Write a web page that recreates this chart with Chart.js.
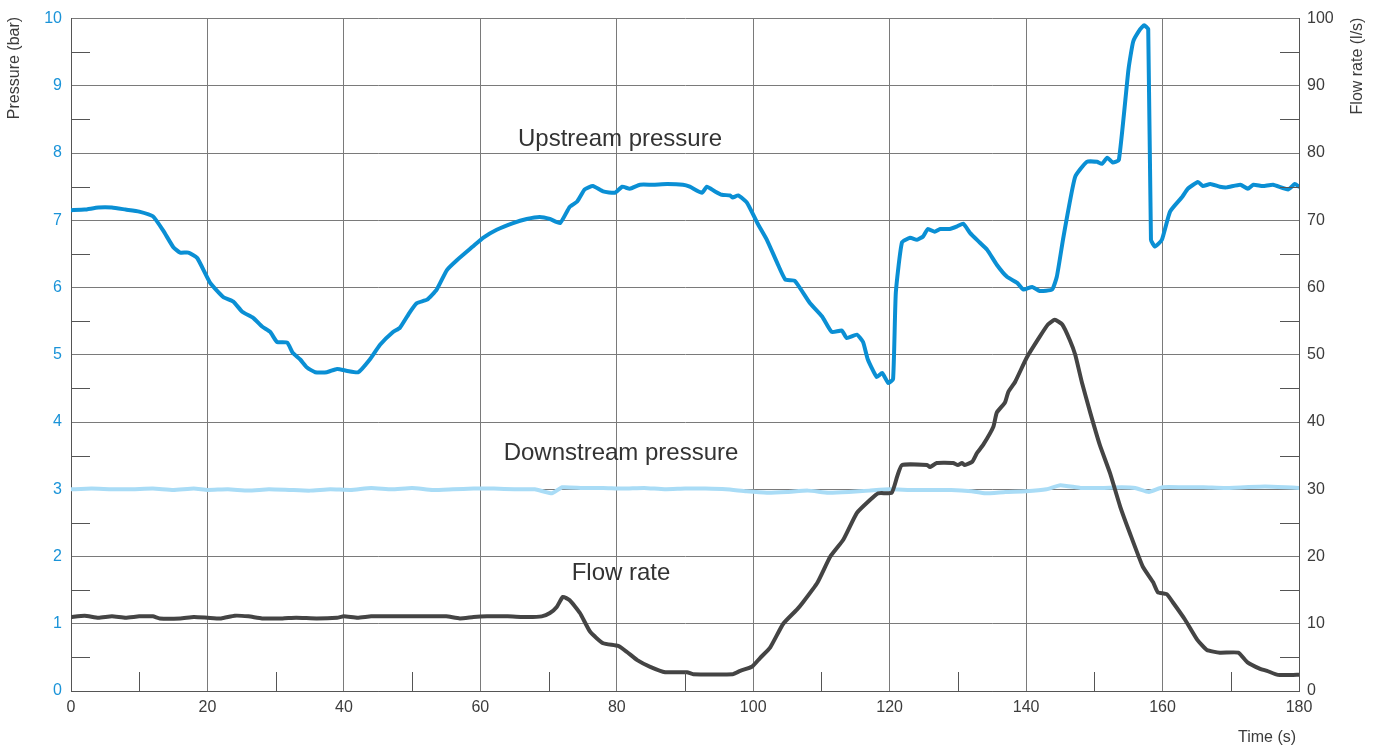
<!DOCTYPE html>
<html>
<head>
<meta charset="utf-8">
<script src="https://cdn.jsdelivr.net/npm/chart.js@4.4.1/dist/chart.umd.min.js"></script>
<style>
  html, body { margin: 0; padding: 0; background: #fff; }
  #chart { display: block; }
</style>
</head>
<body>
<canvas id="chart" width="1383" height="746"></canvas>
<script>
// upstream pressure (bar)
const upTime = [0, 2, 4, 6, 8, 10, 12, 13.5, 15, 16, 17.2, 18.5, 20.4, 22.3, 23.8, 25.1, 26.7, 28, 29.2, 30.2,
  31.7, 32.5, 33.6, 34.6, 35.8, 37.5, 39, 40.5, 42.1, 43.8, 45.3, 47.2, 48.2, 49.7, 50.7, 52.2, 53.6, 55.1,
  56.6, 58.9, 60.4, 62.4, 64.8, 66.8, 68.7, 70.2, 71.7, 73.1, 74.2, 75.3, 76.5, 78, 79.7, 80.8, 81.9, 83.4,
  85.3, 87.4, 89.7, 90.7, 92.5, 93.2, 94.4, 95.4, 96.6, 97, 97.8, 99.1, 100.6, 102, 103.5, 104.7, 106.1,
  108.3, 110.1, 111.5, 113, 113.7, 115.2, 116.1, 116.8, 118.1, 118.9, 119.8, 120.5, 120.9, 121.8, 123, 124,
  124.9, 125.6, 126.6, 127.4, 128.8, 129.9, 130.8, 131.8, 133.2, 134.3, 135.7, 137.2, 138.7, 139.6, 140.9,
  142, 143.8, 144.5, 145.4, 146, 147.2, 148.9, 150.4, 151.1, 151.9, 152.7, 153.6, 155, 155.7, 156.7, 157.3,
  157.9, 158.3, 158.9, 159.9, 161.1, 162.9, 163.7, 165.2, 165.9, 167, 168.4, 169.4, 171.4, 172.5, 173.3,
  174.7, 176.2, 178.4, 179.4, 180];
const upPressure = [7.15, 7.16, 7.19, 7.19, 7.16, 7.13, 7.06, 6.85, 6.6, 6.52, 6.52, 6.44, 6.07, 5.86, 5.79, 5.64,
  5.55, 5.42, 5.34, 5.19, 5.18, 5.03, 4.93, 4.81, 4.74, 4.74, 4.79, 4.76, 4.74, 4.93, 5.15, 5.34, 5.4, 5.64,
  5.77, 5.82, 5.97, 6.26, 6.41, 6.61, 6.74, 6.86, 6.96, 7.02, 7.05, 7.02, 6.96, 7.2, 7.28, 7.46, 7.51, 7.43,
  7.41, 7.5, 7.47, 7.53, 7.53, 7.54, 7.53, 7.5, 7.41, 7.5, 7.43, 7.38, 7.37, 7.34, 7.37, 7.26, 6.96, 6.71,
  6.37, 6.12, 6.1, 5.77, 5.57, 5.34, 5.36, 5.25, 5.3, 5.19, 4.93, 4.67, 4.73, 4.58, 4.64, 5.92, 6.67, 6.74,
  6.71, 6.76, 6.87, 6.83, 6.87, 6.87, 6.91, 6.95, 6.81, 6.67, 6.56, 6.34, 6.16, 6.07, 5.97, 6.01, 5.95, 5.97,
  6.16, 6.71, 7.05, 7.65, 7.87, 7.87, 7.84, 7.93, 7.86, 7.9, 9.24, 9.66, 9.84, 9.9, 9.84, 6.71, 6.61, 6.71,
  7.13, 7.35, 7.47, 7.57, 7.51, 7.54, 7.5, 7.49, 7.53, 7.47, 7.53, 7.51, 7.53, 7.46, 7.54, 7.5];

// downstream pressure (bar)
const downTime = [0, 3, 6, 9, 12, 15, 18, 20, 23, 26, 29, 32, 35, 38, 41, 44, 47, 50, 53, 56, 59, 62, 65, 68,
  70.5, 72, 75, 78, 81, 84, 87, 90, 93, 96, 99, 102, 105, 108, 111, 114, 117, 120, 123, 126, 129, 132, 134,
  137, 140, 143, 145, 148, 151, 154, 156, 158, 160, 163, 166, 169, 172, 175, 178, 180];
const downPressure = [3.0, 3.01, 3.0, 3.0, 3.01, 2.99, 3.01, 2.99, 3.0, 2.98, 3.0, 2.99, 2.98, 3.0, 2.99, 3.02,
  3.0, 3.02, 2.99, 3.0, 3.01, 3.01, 3.0, 3.0, 2.94, 3.03, 3.02, 3.02, 3.01, 3.02, 3.0, 3.01, 3.01, 3.0, 2.97,
  2.95, 2.96, 2.98, 2.95, 2.96, 2.98, 3.0, 2.99, 2.99, 2.99, 2.97, 2.94, 2.96, 2.97, 3.0, 3.06, 3.02, 3.02,
  3.03, 3.02, 2.96, 3.03, 3.03, 3.03, 3.02, 3.03, 3.04, 3.03, 3.02];

// flow rate (l/s)
const flowTime = [0, 2, 4, 6, 8, 10, 12, 13, 16, 18, 20, 22, 24, 26, 28, 31, 33, 36, 39, 40, 42, 44, 47, 52, 55,
  57, 59, 61, 64, 67, 69, 70.2, 71.2, 72.1, 73.1, 74.6, 76.1, 78, 80.2, 81.5, 83, 84.9, 87.1, 90.3, 91.2, 97,
  98.1, 99.8, 101, 102.5, 104.4, 106.4, 107.3, 109.4, 111.3, 113.2, 115.2, 117.1, 118.3, 120.3, 121.1, 121.8,
  125.5, 125.9, 126.9, 129.3, 130, 130.6, 131, 132.1, 132.8, 133.7, 135.2, 135.7, 136.9, 137.4, 138.4, 140.1,
  142, 143.2, 144.2, 145.3, 146.4, 147.2, 148.2, 149.4, 150.8, 152.3, 153.8, 155.2, 157.1, 158.6, 159.3,
  160.6, 161.5, 163.3, 165.1, 166.5, 168.4, 171.1, 172.4, 174.3, 175.3, 176.9, 179.7, 180];
const flowRate = [11.0, 11.2, 10.9, 11.1, 10.9, 11.1, 11.1, 10.8, 10.8, 11.0, 10.9, 10.8, 11.2, 11.1, 10.8,
  10.8, 10.9, 10.8, 10.9, 11.1, 10.9, 11.1, 11.1, 11.1, 11.1, 10.8, 11.0, 11.1, 11.1, 11.0, 11.1, 11.6, 12.5,
  14.0, 13.5, 11.6, 8.8, 7.1, 6.7, 5.8, 4.6, 3.6, 2.8, 2.8, 2.5, 2.5, 3.0, 3.6, 4.9, 6.5, 10.0, 12.1, 13.2,
  16.1, 20.0, 22.5, 26.5, 28.4, 29.4, 29.5, 31.9, 33.6, 33.6, 33.3, 33.9, 33.9, 33.6, 33.9, 33.6, 34.1, 35.4,
  36.6, 39.3, 41.4, 42.9, 44.5, 46.0, 49.6, 52.7, 54.5, 55.2, 54.5, 52.2, 50.0, 45.8, 41.4, 36.6, 32.4, 27.4,
  23.5, 18.5, 16.2, 14.7, 14.4, 13.2, 10.6, 7.6, 6.1, 5.7, 5.7, 4.3, 3.3, 3.0, 2.4, 2.4, 2.4];

const xTicks = [0, 20, 40, 60, 80, 100, 120, 140, 160, 180];

const FONT = 'Liberation Sans, Arial, sans-serif';
const BLUE = '#0a8fd4';
const GRID = '#7a7a7a';
const TEXT = '#3c3c3c';

const pts = (xs, ys) => xs.map((x, i) => ({ x: x, y: ys[i] }));

// minor ticks, axis titles and series labels
const extras = {
  id: 'extras',
  afterDraw(chart) {
    const { ctx, chartArea: a, scales } = chart;
    const x = scales.x, y = scales.y;
    ctx.save();
    ctx.strokeStyle = '#555';
    ctx.lineWidth = 1;
    ctx.beginPath();
    for (let v = 0.5; v < 10; v += 1) {
      const py = Math.round(y.getPixelForValue(v)) + 0.5;
      ctx.moveTo(a.left, py); ctx.lineTo(a.left + 19, py);
      ctx.moveTo(a.right - 19, py); ctx.lineTo(a.right, py);
    }
    for (let v = 10; v < 180; v += 20) {
      const px = Math.round(x.getPixelForValue(v)) + 0.5;
      ctx.moveTo(px, a.bottom); ctx.lineTo(px, a.bottom - 19);
    }
    ctx.stroke();

    ctx.fillStyle = TEXT;
    ctx.font = '16px ' + FONT;
    ctx.textAlign = 'center';
    ctx.textBaseline = 'middle';
    ctx.save();
    ctx.translate(15, 68);
    ctx.rotate(-Math.PI / 2);
    ctx.fillText('Pressure (bar)', 0, 0);
    ctx.restore();
    ctx.save();
    ctx.translate(1358, 66);
    ctx.rotate(-Math.PI / 2);
    ctx.fillText('Flow rate (l/s)', 0, 0);
    ctx.restore();
    ctx.fillText('Time (s)', 1267, 738);

    ctx.font = '24px ' + FONT;
    ctx.fillStyle = '#333';
    ctx.fillText('Upstream pressure', 620, 139);
    ctx.fillText('Downstream pressure', 621, 453);
    ctx.fillText('Flow rate', 621, 573);
    ctx.restore();
  }
};

new Chart(document.getElementById('chart'), {
  type: 'line',
  data: {
    datasets: [
      {
        label: 'Upstream pressure',
        data: pts(upTime, upPressure),
        borderColor: BLUE,
        borderWidth: 4,
        yAxisID: 'y',
      },
      {
        label: 'Flow rate',
        data: pts(flowTime, flowRate),
        borderColor: '#444444',
        borderWidth: 4,
        yAxisID: 'y2',
      },
      {
        label: 'Downstream pressure',
        data: pts(downTime, downPressure),
        borderColor: '#a9dcf6',
        borderWidth: 4,
        yAxisID: 'y',
      },
    ],
  },
  options: {
    responsive: false,
    animation: false,
    devicePixelRatio: 1,
    layout: { padding: { top: 18, left: 0, right: 0, bottom: 0 } },
    elements: {
      point: { radius: 0 },
      line: { tension: 0.15, borderCapStyle: 'round', borderJoinStyle: 'round' },
    },
    plugins: {
      legend: { display: false },
      tooltip: { enabled: false },
    },
    scales: {
      x: {
        type: 'linear',
        min: 0,
        max: 180,
        afterBuildTicks: (s) => { s.ticks = xTicks.map(v => ({ value: v })); },
        afterFit: (s) => { s.height = 55; },
        grid: { color: GRID, lineWidth: 1, drawTicks: false },
        border: { color: '#555' },
        ticks: { color: TEXT, font: { size: 16, family: FONT }, padding: 7, maxRotation: 0 },
      },
      y: {
        position: 'left',
        min: 0,
        max: 10,
        afterFit: (s) => { s.width = 71; },
        grid: { color: GRID, lineWidth: 1, drawTicks: false },
        border: { color: '#555' },
        ticks: { stepSize: 1, color: '#1a93d8', font: { size: 16, family: FONT }, padding: 9 },
      },
      y2: {
        position: 'right',
        min: 0,
        max: 100,
        afterFit: (s) => { s.width = 84; },
        grid: { display: false, drawTicks: false },
        border: { color: '#555' },
        ticks: { stepSize: 10, color: TEXT, font: { size: 16, family: FONT }, padding: 8 },
      },
    },
  },
  plugins: [extras],
});
</script>
</body>
</html>
